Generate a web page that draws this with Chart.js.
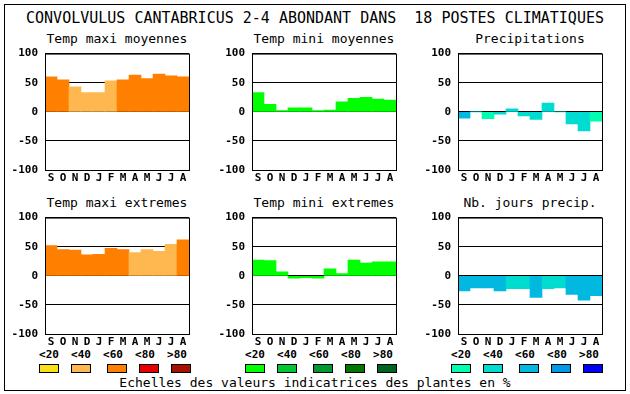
<!DOCTYPE html>
<html>
<head>
<meta charset="utf-8">
<script src="https://cdn.jsdelivr.net/npm/chart.js@4.4.0/dist/chart.umd.min.js"></script>
<style>
  body { margin: 0; background: #fff; width: 630px; height: 394px; position: relative; overflow: hidden; }
  #frame { position: absolute; left: 4px; top: 4px; width: 620px; height: 385px; border: 1px solid #000; }
  .txt { position: absolute; font-family: "DejaVu Sans Mono", monospace; color: #000; white-space: pre; }
  .main { font-size: 15px; line-height: 15px; left: 0; width: 630px; text-align: center; top: 11px; }
  .sub { font-size: 13px; line-height: 13px; width: 144px; text-align: center; }
  .lab { font-size: 11px; line-height: 11px; font-weight: bold; width: 20px; text-align: center; top: 349px; }
  .box { position: absolute; width: 18px; height: 7px; border: 1px solid #000; top: 364px; }
  canvas { position: absolute; }
</style>
</head>
<body>
<div id="frame"></div>
<div class="txt main">CONVOLVULUS CANTABRICUS 2-4 ABONDANT DANS  18 POSTES CLIMATIQUES</div>
<div class="txt sub" style="left:45px;top:32px">Temp maxi moyennes</div>
<div class="txt sub" style="left:252px;top:32px">Temp mini moyennes</div>
<div class="txt sub" style="left:458px;top:32px">Precipitations</div>
<div class="txt sub" style="left:45px;top:196px">Temp maxi extremes</div>
<div class="txt sub" style="left:252px;top:196px">Temp mini extremes</div>
<div class="txt sub" style="left:458px;top:196px">Nb. jours precip.</div>
<div class="txt" style="font-size:13px;line-height:13px;left:0;width:630px;text-align:center;top:376px">Echelles des valeurs indicatrices des plantes en %</div>
<div id="legend"></div>

<canvas id="c1" width="192" height="148" style="left:3px;top:40px"></canvas>
<canvas id="c2" width="192" height="148" style="left:210px;top:40px"></canvas>
<canvas id="c3" width="192" height="148" style="left:416px;top:40px"></canvas>
<canvas id="c4" width="192" height="148" style="left:3px;top:204px"></canvas>
<canvas id="c5" width="192" height="148" style="left:210px;top:204px"></canvas>
<canvas id="c6" width="192" height="148" style="left:416px;top:204px"></canvas>

<script>
const months = ['S', 'O', 'N', 'D', 'J', 'F', 'M', 'A', 'M', 'J', 'J', 'A'];
const classLabels = ['<20', '<40', '<60', '<80', '>80'];

// values (% scale) and abundance class (0..4 = <20 .. >80) per month
const tmaxMoy = [60, 55, 43, 33, 33, 53, 55, 63, 57, 65, 62, 60];
const tmaxMoyClass = [2, 2, 1, 1, 1, 1, 2, 2, 2, 2, 2, 2];
const tminMoy = [33, 13, 2, 7, 7, 2, 3, 17, 23, 25, 22, 20];
const tminMoyClass = [0, 0, 0, 0, 0, 0, 0, 0, 0, 0, 0, 0];
const precip = [-11, 0, -12, -4, 5, -7, -13, 15, 0, -21, -33, -16];
const precipClass = [2, 1, 0, 1, 1, 1, 1, 1, 1, 1, 1, 0];
const tmaxExt = [52, 45, 44, 36, 37, 47, 45, 40, 45, 42, 54, 62];
const tmaxExtClass = [2, 2, 2, 2, 2, 2, 2, 1, 1, 1, 1, 2];
const tminExt = [27, 26, 7, -4, -3, -4, 12, 4, 27, 22, 24, 24];
const tminExtClass = [0, 0, 0, 0, 0, 0, 0, 0, 0, 0, 0, 0];
const joursPrecip = [-26, -21, -21, -26, -22, -22, -37, -22, -21, -32, -42, -34];
const joursPrecipClass = [2, 2, 2, 2, 1, 1, 2, 1, 1, 2, 2, 2];

const yTicks = [-100, -50, 0, 50, 100];

// colour scales
const tempColors = ['#f8e018', '#ffb850', '#ff8000', '#e80000', '#a81000'];
const greenColors = ['#00ff00', '#00c832', '#009830', '#007800', '#006420'];
const blueColors = ['#00ffb0', '#00dcd0', '#00b8e0', '#0098e8', '#0000ff'];

const tickFont = { family: 'DejaVu Sans Mono', size: 11, weight: 'bold' };

// black box around the plot area
const framePlugin = {
    id: 'frame',
    afterDraw(chart) {
        const a = chart.chartArea;
        const ctx = chart.ctx;
        ctx.save();
        ctx.strokeStyle = '#000';
        ctx.lineWidth = 1;
        ctx.strokeRect(a.left + 0.5, a.top + 0.5, a.right - a.left, a.bottom - a.top);
        ctx.restore();
    }
};

function makeChart(id, values, classes, palette) {
    return new Chart(document.getElementById(id), {
        type: 'bar',
        data: {
            labels: months,
            datasets: [{
                data: values,
                backgroundColor: classes.map(c => palette[c]),
                borderWidth: 0,
                categoryPercentage: 1,
                barPercentage: 1
            }]
        },
        options: {
            responsive: false,
            animation: false,
            devicePixelRatio: 1,
            layout: { padding: { top: 10, right: 6, left: 0, bottom: 0 } },
            plugins: { legend: { display: false }, tooltip: { enabled: false } },
            scales: {
                x: {
                    grid: { display: false, drawTicks: false },
                    border: { display: false },
                    ticks: { color: '#000', font: tickFont, padding: 2, maxRotation: 0, autoSkip: false },
                    afterFit: s => { s.height = 18; }
                },
                y: {
                    min: yTicks[0],
                    max: yTicks[yTicks.length - 1],
                    z: 1,
                    afterBuildTicks: s => { s.ticks = yTicks.map(v => ({ value: v })); },
                    ticks: { color: '#000', font: tickFont, padding: 7 },
                    grid: { color: '#000', lineWidth: 1, drawTicks: false },
                    border: { display: false },
                    afterFit: s => { s.width = 42; }
                }
            }
        },
        plugins: [framePlugin]
    });
}

makeChart('c1', tmaxMoy, tmaxMoyClass, tempColors);
makeChart('c2', tminMoy, tminMoyClass, greenColors);
makeChart('c3', precip, precipClass, blueColors);
makeChart('c4', tmaxExt, tmaxExtClass, tempColors);
makeChart('c5', tminExt, tminExtClass, greenColors);
makeChart('c6', joursPrecip, joursPrecipClass, blueColors);

// colour scale legend under each column
const legend = document.getElementById('legend');
const groupLeft = [39, 245, 451];
const groupPalettes = [tempColors, greenColors, blueColors];
const labelOffsets = [0, 32, 64, 96, 128];
const boxOffsets = [0, 32, 68, 100, 132];
groupLeft.forEach((g, gi) => {
    classLabels.forEach((lbl, i) => {
        const t = document.createElement('div');
        t.className = 'txt lab';
        t.style.left = (g + labelOffsets[i]) + 'px';
        t.textContent = lbl;
        legend.appendChild(t);
        const b = document.createElement('div');
        b.className = 'box';
        b.style.left = (g + boxOffsets[i]) + 'px';
        b.style.background = groupPalettes[gi][i];
        legend.appendChild(b);
    });
});
</script>
</body>
</html>
